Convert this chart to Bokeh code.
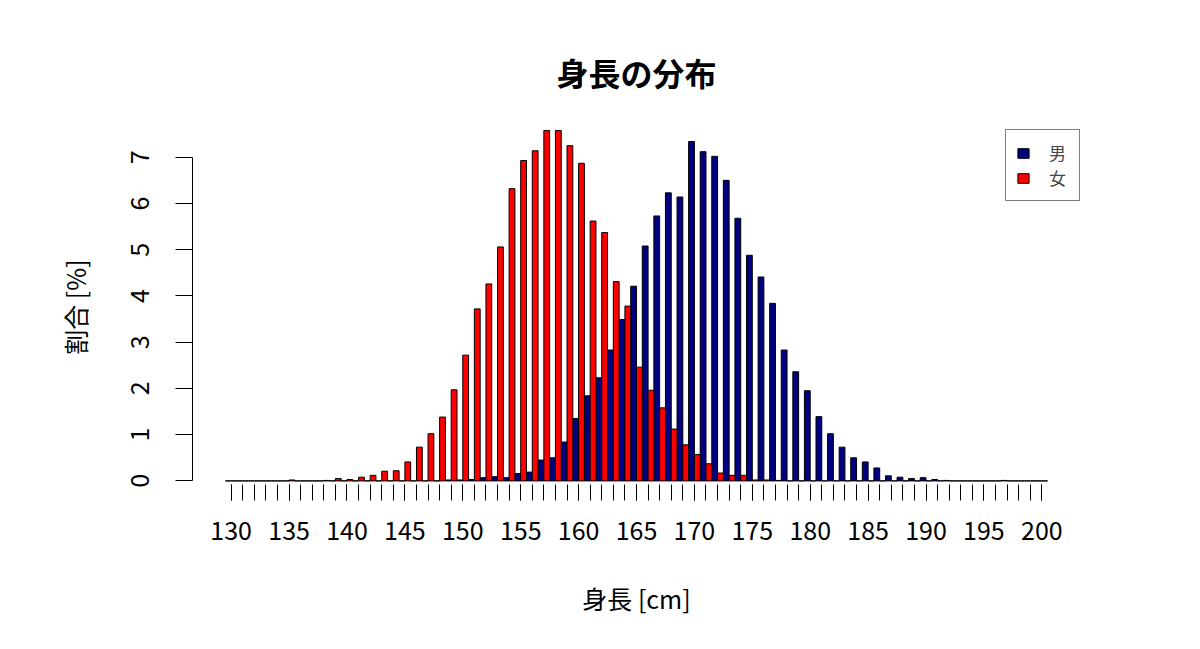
from bokeh.plotting import figure
from bokeh.models import ColumnDataSource, Range1d, FixedTicker, LinearAxis, Legend, LegendItem
from bokeh.transform import dodge
from bokeh.embed import file_html
from bokeh.resources import INLINE

# ---- data ----
heights_cm = list(range(130, 201))
male = [0, 0, 0, 0, 0, 0, 0, 0, 0, 0,            # 130-139
        0, 0, 0, 0, 0, 0, 0, 0, 0, 0.02,         # 140-149
        0.02, 0.03, 0.07, 0.09, 0.07, 0.16, 0.19, 0.45, 0.50, 0.84,   # 150-159
        1.35, 1.84, 2.23, 2.83, 3.49, 4.21, 5.08, 5.73, 6.23, 6.14,   # 160-169
        7.34, 7.12, 7.02, 6.50, 5.68, 4.88, 4.41, 3.84, 2.83, 2.36,   # 170-179
        1.95, 1.39, 1.02, 0.73, 0.50, 0.41, 0.28, 0.11, 0.08, 0.05,   # 180-189
        0.07, 0.03, 0.01, 0, 0, 0, 0, 0.01, 0, 0,                     # 190-199
        0]                                                            # 200
female = [0, 0, 0, 0, 0, 0.02, 0, 0, 0.01, 0.05,                    # 130-139
          0.03, 0.08, 0.12, 0.21, 0.22, 0.41, 0.73, 1.02, 1.38, 1.97, # 140-149
          2.72, 3.72, 4.26, 5.06, 6.32, 6.93, 7.14, 7.58, 7.58, 7.25, # 150-159
          6.87, 5.62, 5.37, 4.31, 3.78, 2.46, 1.96, 1.58, 1.12, 0.78, # 160-169
          0.57, 0.37, 0.17, 0.12, 0.12, 0.02, 0.02, 0.01, 0, 0,       # 170-179
          0, 0, 0, 0, 0, 0, 0, 0, 0, 0,                               # 180-189
          0, 0, 0, 0, 0, 0, 0, 0, 0, 0,                               # 190-199
          0]                                                          # 200
series_names = ["男", "女"]
series_colors = ["#000080", "#FF0000"]
x_tick_values = [130, 135, 140, 145, 150, 155, 160, 165, 170, 175, 180, 185, 190, 195, 200]
y_tick_values = [0, 1, 2, 3, 4, 5, 6, 7]

FONT = "Noto Sans CJK JP"

src = ColumnDataSource(dict(cm=heights_cm, male=male, female=female))

p = figure(width=1184, height=633, output_backend="svg", toolbar_location=None,
           x_range=Range1d(126.66, 203.34), y_range=Range1d(-0.078, 7.6),
           x_axis_location=None, y_axis_location=None,
           min_border_left=192, min_border_right=104, min_border_top=129, min_border_bottom=149)
p.outline_line_color = None
p.xgrid.visible = False
p.ygrid.visible = False
p.background_fill_color = "white"
p.border_fill_color = "white"

r_m = p.vbar(x=dodge("cm", -0.25, range=p.x_range), width=0.5, top="male", bottom=0, source=src,
             fill_color=series_colors[0], line_color="black", line_width=1)
r_f = p.vbar(x=dodge("cm", 0.25, range=p.x_range), width=0.5, top="female", bottom=0, source=src,
             fill_color=series_colors[1], line_color="black", line_width=1)

# x axis
xaxis = LinearAxis(ticker=FixedTicker(ticks=x_tick_values, minor_ticks=heights_cm))
xaxis.axis_line_color = None
xaxis.major_tick_in = 0
xaxis.major_tick_out = 16
xaxis.minor_tick_in = 0
xaxis.minor_tick_out = 16
xaxis.major_tick_line_color = "black"
xaxis.minor_tick_line_color = "black"
xaxis.major_label_text_font = FONT
xaxis.major_label_text_font_size = "25px"
xaxis.major_label_text_color = "black"
xaxis.major_label_standoff = 20
xaxis.axis_label = "身長 [cm]"
xaxis.axis_label_text_font = FONT
xaxis.axis_label_text_font_size = "25px"
xaxis.axis_label_text_font_style = "normal"
xaxis.axis_label_text_color = "black"
xaxis.axis_label_standoff = 37
p.add_layout(xaxis, "below")

# y axis
yaxis = LinearAxis(ticker=FixedTicker(ticks=y_tick_values), bounds=(0, 7))
yaxis.axis_line_color = "black"
yaxis.major_tick_in = 0
yaxis.major_tick_out = 17
yaxis.minor_tick_line_color = None
yaxis.major_label_orientation = "vertical"
yaxis.major_label_text_font = FONT
yaxis.major_label_text_font_size = "25px"
yaxis.major_label_text_color = "black"
yaxis.major_label_standoff = 26
yaxis.axis_label = "割合 [%]"
yaxis.axis_label_text_font = FONT
yaxis.axis_label_text_font_size = "25px"
yaxis.axis_label_text_font_style = "normal"
yaxis.axis_label_text_color = "black"
yaxis.axis_label_standoff = 35
p.add_layout(yaxis, "left")

# title
p.title.text = "身長の分布"
p.title.align = "center"
p.title.vertical_align = "top"
p.title.text_font = FONT
p.title.text_font_size = "32px"
p.title.text_font_style = "bold"
p.title.text_color = "black"
p.title.standoff = 66

legend = Legend(items=[LegendItem(label=series_names[0], renderers=[r_m]),
                       LegendItem(label=series_names[1], renderers=[r_f])],
                location="top_right")
legend.margin = 0
legend.padding = 10
legend.spacing = 0
legend.glyph_width = 14
legend.glyph_height = 12
legend.label_height = 19
legend.label_standoff = 19
legend.label_text_font = FONT
legend.label_text_font_size = "17px"
legend.label_text_line_height = 1.0
legend.border_line_color = "black"
legend.border_line_width = 1
legend.background_fill_alpha = 1
p.add_layout(legend)

open("out.html", "w").write(file_html(p, INLINE))
